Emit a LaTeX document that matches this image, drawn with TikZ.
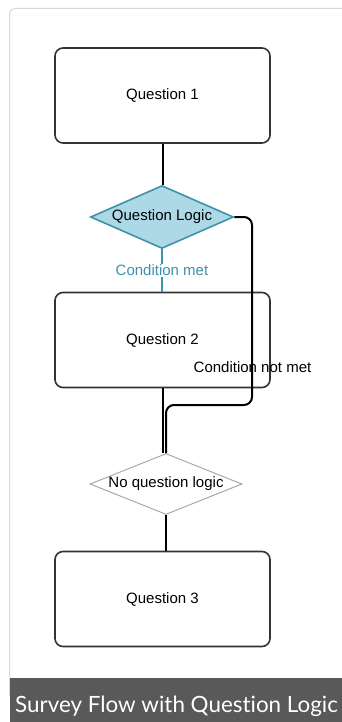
\documentclass[tikz,border=0pt]{standalone}
\usepackage{fontspec}
\setmainfont{Liberation Sans}
\newfontfamily\captionfont[Ligatures=NoCommon]{Lato}
\usetikzlibrary{shapes.geometric,positioning}

\definecolor{qteal}{HTML}{3E93AB}
\definecolor{qblue}{HTML}{ADD8E6}
\definecolor{cardgray}{HTML}{D9D9D9}
\definecolor{bargray}{HTML}{595959}
\definecolor{nologgray}{HTML}{A8A8A8}

\begin{document}
\begin{tikzpicture}[x=1pt, y=-1pt,
    qbox/.style={draw=black!80, line width=1.6pt, rounded corners=8pt, fill=white,
        minimum width=215pt, minimum height=95pt, font=\fontsize{15}{18}\selectfont},
    logicdia/.style={diamond, draw=qteal, line width=1.6pt, fill=qblue, inner sep=0pt,
        aspect=2.27, minimum width=143pt, minimum height=63pt, font=\fontsize{15}{18}\selectfont},
    nologdia/.style={diamond, draw=nologgray, line width=1pt, fill=white, inner sep=0pt,
        aspect=2.5, minimum width=152pt, minimum height=61pt, font=\fontsize{15}{18}\selectfont},
    flowline/.style={draw=black, line width=2pt},
    metline/.style={draw=qteal, line width=1.6pt}]
    \useasboundingbox (0,0) rectangle (342,722);
    \clip (0,0) rectangle (342,722);

    % card and caption bar
    \draw[cardgray, line width=1pt, rounded corners=6pt, fill=white] (9.5,8.5) rectangle (360,700);
    \fill[bargray] (10,678) rectangle (342,722);
    \node[anchor=base west, text=white, inner sep=0pt, font=\captionfont\fontsize{22.4}{26}\selectfont] (caption) at (15,712) {Survey Flow with Question Logic};

    % questions and logic
    \node[qbox] (q1) at (162.5,95.5) {Question 1};
    \node[logicdia] (logic) at (162,217) {Question Logic};
    \node[qbox] (q2) at (162.5,340) {Question 2};
    \node[nologdia] (nolog) at (166,484) {No question logic};
    \node[qbox] (q3) at (162.5,599) {Question 3};

    \coordinate (turn) at (252,405);

    \draw[flowline] (q1.south) -- (q1.south |- logic.north);
    \draw[metline] (logic.south) -- (logic.south |- q2.north)
        node[midway, fill=white, text=qteal, inner sep=1pt, font=\fontsize{15}{18}\selectfont] (met) {Condition met};
    \draw[flowline, rounded corners=8pt] (logic.east) -| (turn) -| (nolog.north);
    \draw[flowline] (q2.south) -- (q2.south |- nolog.north);
    \draw[flowline] (nolog.south) -- (nolog.south |- q3.north);

    \node[font=\fontsize{15}{18}\selectfont] (notmet) at (252.5,367) {Condition not met};
\end{tikzpicture}
\end{document}
